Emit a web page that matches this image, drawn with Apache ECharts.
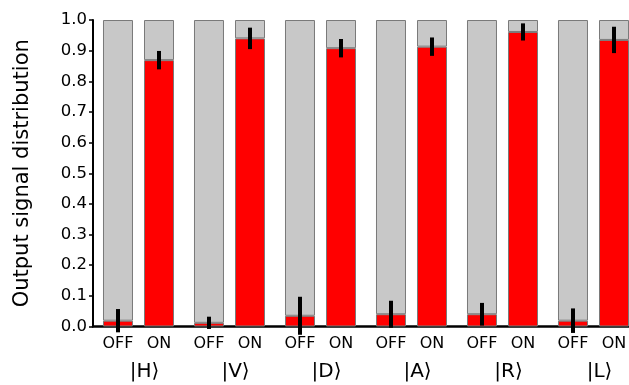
<!DOCTYPE html>
<html>
<head>
<meta charset="utf-8">
<script src="https://cdn.jsdelivr.net/npm/echarts@6/dist/echarts.min.js"></script>
<style>
  html, body { margin: 0; padding: 0; background: #fff; }
  #chart { width: 629px; height: 385px; }
</style>
</head>
<body>
<div id="chart"></div>
<script>
// input states (groups) and read-off values
const groups = ['|H⟩', '|V⟩', '|D⟩', '|A⟩', '|R⟩', '|L⟩']
const offVals = [0.019, 0.012, 0.035, 0.040, 0.040, 0.019]
const onVals = [0.869, 0.940, 0.908, 0.913, 0.961, 0.935]
const offErr = [0.038, 0.020, 0.062, 0.044, 0.037, 0.040]
const onErr = [0.030, 0.035, 0.030, 0.030, 0.028, 0.043]

const FONT = 'DejaVu Sans'
const RED = '#ff0000'
const GREY = '#c8c8c8'
const EDGE = '#7a7a7a'
const PAIR_OFFSET = 20.5 // px from group centre to each bar centre

const chart = echarts.init(document.getElementById('chart'))

const barBase = (name, stack, data, color, label) => ({
  name,
  type: 'bar',
  stack,
  data,
  barWidth: 30,
  barGap: '36.7%',
  itemStyle: { color, borderColor: EDGE, borderWidth: 1 },
  label: label
    ? { show: true, position: 'bottom', distance: 9, formatter: label, color: '#000', fontFamily: FONT, fontSize: 16 }
    : { show: false },
  emphasis: { disabled: true },
  animation: false,
})

const errSeries = (vals, errs, dir) => ({
  type: 'custom',
  data: vals.map((v, i) => [i, v, errs[i]]),
  z: 5,
  clip: false,
  animation: false,
  renderItem: (params, api) => {
    const i = api.value(0)
    const v = api.value(1)
    const e = api.value(2)
    const top = api.coord([i, v + e])
    const bot = api.coord([i, v - e])
    const x = top[0] + dir * PAIR_OFFSET
    return {
      type: 'line',
      shape: { x1: x, y1: top[1], x2: x, y2: bot[1] },
      style: { stroke: '#000', lineWidth: 4 },
    }
  },
})

chart.setOption({
  // plot area runs past the right edge of the canvas, as in the original
  grid: { left: 93, top: 20, width: 546, height: 306.5, outerBoundsMode: 'none', containLabel: false },
  xAxis: {
    type: 'category',
    data: groups,
    axisLine: { lineStyle: { color: '#000', width: 2.5 } },
    axisTick: { show: false },
    axisLabel: { color: '#000', fontFamily: FONT, fontSize: 20, margin: 35, padding: [0, 0, 0, 12] },
  },
  yAxis: {
    type: 'value',
    min: 0,
    max: 1,
    interval: 0.1,
    name: 'Output signal distribution',
    nameLocation: 'middle',
    nameGap: 60,
    nameTextStyle: { color: '#000', fontFamily: FONT, fontSize: 21 },
    axisLine: { show: true, lineStyle: { color: '#000', width: 2 } },
    axisTick: { show: true, length: 4, lineStyle: { color: '#000', width: 1.5 } },
    axisLabel: { color: '#000', fontFamily: FONT, fontSize: 16.5, margin: 6, formatter: (v) => v.toFixed(1) },
    splitLine: { show: false },
  },
  series: [
    barBase('off', 'off', offVals, RED, 'OFF'),
    barBase('offRest', 'off', offVals.map((v) => 1 - v), GREY),
    barBase('on', 'on', onVals, RED, 'ON'),
    barBase('onRest', 'on', onVals.map((v) => 1 - v), GREY),
    errSeries(offVals, offErr, -1),
    errSeries(onVals, onErr, 1),
  ],
})
</script>
</body>
</html>
